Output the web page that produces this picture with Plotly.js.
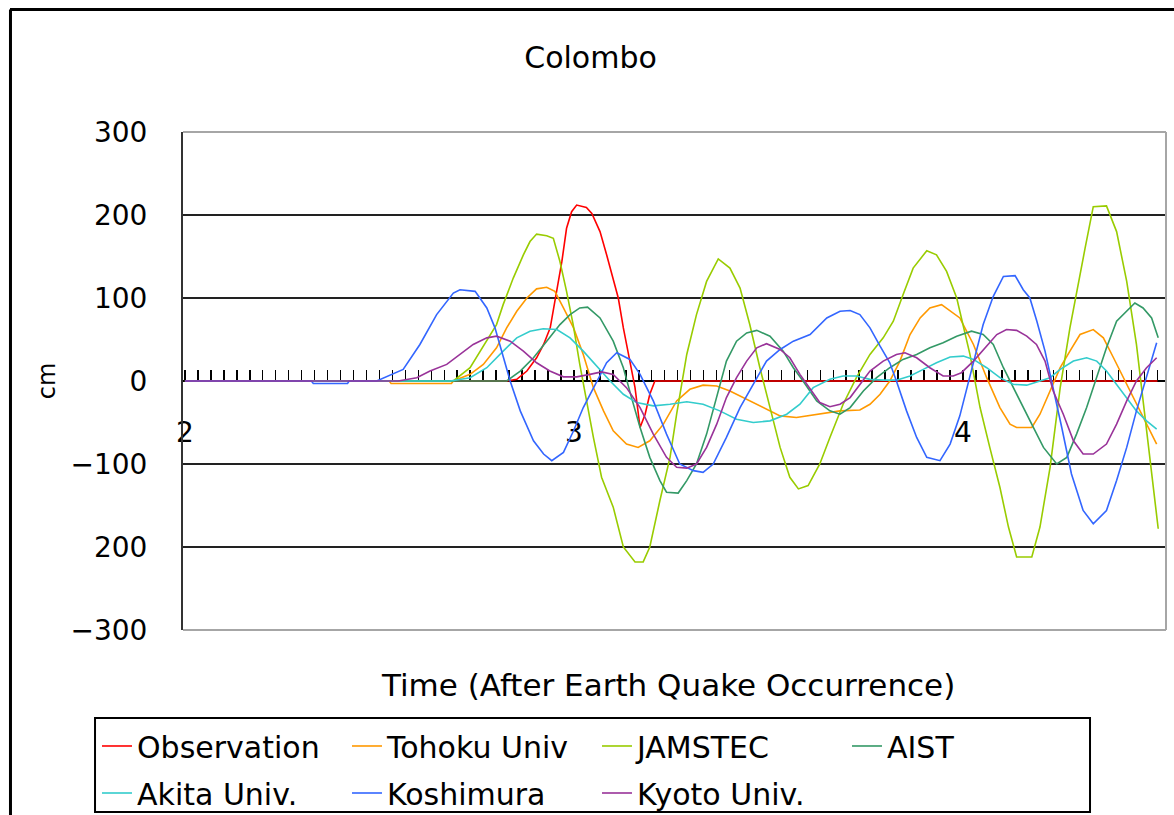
<!DOCTYPE html>
<html>
<head>
<meta charset="utf-8">
<script src="https://cdn.plot.ly/plotly-3.0.1.min.js"></script>
<style>html,body{margin:0;padding:0;background:#fff;}#chart{width:1174px;height:815px;}</style>
</head>
<body>
<div id="chart"></div>
<script>
// ---- data (time in hours after the earthquake, value in cm) ----
var seriesNames = ["Observation", "Tohoku Univ", "JAMSTEC", "AIST", "Akita Univ.", "Koshimura", "Kyoto Univ."];

var obsT = [2.0, 2.827, 2.853, 2.879, 2.904, 2.922, 2.939, 2.956, 2.969, 2.981, 2.994, 3.007, 3.032, 3.046, 3.067, 3.084, 3.101, 3.114, 3.127, 3.144, 3.157, 3.170, 3.183, 3.195, 3.208, 4.5];
var obsV = [0, 0, 2, 12, 28, 44, 64, 108, 144, 184, 204, 212, 209, 202, 180, 152, 124, 100, 64, 24, -8, -56, -40, -16, 0, 0];

var tohT = [2.0, 2.525, 2.53, 2.685, 2.690, 2.733, 2.767, 2.801, 2.827, 2.853, 2.879, 2.904, 2.930, 2.951, 2.973, 2.999, 3.024, 3.050, 3.076, 3.101, 3.135, 3.165, 3.195, 3.230, 3.264, 3.298, 3.332, 3.367, 3.401, 3.444, 3.487, 3.530, 3.572, 3.632, 3.684, 3.735, 3.761, 3.787, 3.812, 3.838, 3.864, 3.890, 3.915, 3.945, 3.975, 3.992, 4.027, 4.061, 4.095, 4.121, 4.138, 4.177, 4.198, 4.224, 4.250, 4.275, 4.301, 4.335, 4.361, 4.387, 4.421, 4.455, 4.481, 4.498];
var tohV = [0, 0, -3, -3, 0, 8, 20, 40, 64, 84, 100, 111, 113, 108, 88, 64, 32, -8, -36, -60, -76, -80, -72, -52, -24, -10, -5, -6, -12, -22, -32, -42, -44, -40, -36, -35, -28, -16, 0, 24, 56, 76, 88, 92, 82, 76, 44, 4, -32, -52, -56, -56, -40, -12, 16, 36, 56, 62, 52, 28, -4, -36, -60, -76];

var jamT = [2.0, 2.690, 2.733, 2.776, 2.801, 2.818, 2.844, 2.870, 2.887, 2.904, 2.930, 2.947, 2.964, 2.981, 2.998, 3.015, 3.032, 3.050, 3.071, 3.101, 3.127, 3.157, 3.178, 3.195, 3.221, 3.247, 3.264, 3.290, 3.315, 3.341, 3.371, 3.401, 3.427, 3.452, 3.478, 3.504, 3.530, 3.555, 3.577, 3.602, 3.632, 3.658, 3.692, 3.726, 3.761, 3.795, 3.821, 3.846, 3.872, 3.907, 3.932, 3.958, 3.984, 4.018, 4.044, 4.069, 4.095, 4.117, 4.138, 4.177, 4.198, 4.224, 4.250, 4.275, 4.292, 4.314, 4.335, 4.369, 4.395, 4.421, 4.446, 4.472, 4.502];
var jamV = [0, 0, 16, 48, 68, 92, 124, 152, 168, 177, 175, 172, 144, 108, 68, 20, -24, -68, -116, -152, -200, -218, -218, -200, -144, -92, -40, 32, 80, 120, 147, 136, 112, 68, 16, -32, -80, -116, -130, -126, -100, -68, -28, 4, 32, 52, 72, 104, 136, 157, 152, 132, 100, 32, -32, -80, -128, -176, -212, -212, -176, -104, -8, 64, 104, 160, 210, 211, 180, 120, 44, -56, -178];

var aistT = [2.0, 2.827, 2.862, 2.896, 2.930, 2.964, 2.990, 3.015, 3.035, 3.067, 3.101, 3.127, 3.148, 3.170, 3.195, 3.221, 3.238, 3.268, 3.290, 3.315, 3.341, 3.367, 3.392, 3.418, 3.444, 3.470, 3.504, 3.538, 3.564, 3.589, 3.624, 3.658, 3.684, 3.710, 3.744, 3.778, 3.812, 3.846, 3.881, 3.915, 3.949, 3.984, 4.022, 4.052, 4.078, 4.104, 4.129, 4.155, 4.181, 4.207, 4.241, 4.267, 4.292, 4.318, 4.344, 4.369, 4.395, 4.421, 4.442, 4.463, 4.485, 4.502];
var aistV = [0, 0, 12, 28, 48, 68, 80, 88, 89, 76, 48, 16, -20, -56, -92, -120, -134, -135, -120, -100, -64, -20, 24, 48, 58, 61, 54, 36, 16, 0, -24, -36, -40, -32, -12, 4, 16, 26, 32, 40, 46, 54, 60, 56, 44, 16, -8, -32, -56, -80, -100, -92, -64, -32, 4, 40, 72, 84, 94, 88, 76, 52];

var akiT = [2.0, 2.682, 2.733, 2.776, 2.818, 2.853, 2.887, 2.921, 2.956, 2.990, 3.024, 3.058, 3.093, 3.127, 3.161, 3.204, 3.247, 3.290, 3.332, 3.375, 3.418, 3.461, 3.504, 3.547, 3.581, 3.615, 3.632, 3.658, 3.692, 3.726, 3.761, 3.795, 3.829, 3.864, 3.898, 3.932, 3.967, 4.001, 4.027, 4.061, 4.095, 4.129, 4.164, 4.198, 4.224, 4.250, 4.284, 4.318, 4.344, 4.369, 4.395, 4.421, 4.446, 4.472, 4.498];
var akiV = [0, 0, 4, 16, 36, 52, 60, 63, 62, 52, 36, 18, 0, -16, -26, -30, -28, -25, -28, -36, -46, -50, -48, -40, -28, -8, -4, 2, 6, 6, 2, 1, 1, 6, 14, 22, 29, 30, 26, 16, 4, -4, -5, 0, 4, 14, 24, 28, 24, 12, -4, -20, -36, -48, -58];

var koshT = [2.0, 2.325, 2.33, 2.418, 2.422, 2.493, 2.561, 2.604, 2.647, 2.690, 2.707, 2.746, 2.776, 2.797, 2.819, 2.836, 2.862, 2.896, 2.922, 2.943, 2.973, 2.999, 3.024, 3.059, 3.084, 3.110, 3.144, 3.170, 3.204, 3.238, 3.272, 3.307, 3.332, 3.358, 3.392, 3.427, 3.461, 3.495, 3.530, 3.564, 3.607, 3.650, 3.684, 3.710, 3.735, 3.761, 3.787, 3.812, 3.829, 3.855, 3.881, 3.907, 3.941, 3.967, 3.992, 4.027, 4.052, 4.078, 4.104, 4.134, 4.155, 4.172, 4.190, 4.211, 4.232, 4.254, 4.279, 4.309, 4.335, 4.369, 4.395, 4.421, 4.446, 4.472, 4.498];
var koshV = [0, 0, -3, -3, 0, 0, 14, 44, 80, 106, 110, 108, 88, 64, 28, 0, -36, -72, -88, -96, -86, -60, -32, 0, 22, 34, 26, 8, -24, -64, -100, -108, -110, -100, -68, -32, -4, 24, 38, 48, 56, 76, 84, 85, 80, 64, 42, 22, 0, -36, -68, -92, -96, -76, -42, 24, 68, 102, 126, 127, 110, 100, 72, 36, -8, -56, -112, -156, -172, -156, -120, -80, -36, 4, 46];

var kyoT = [2.0, 2.548, 2.596, 2.630, 2.673, 2.707, 2.741, 2.776, 2.801, 2.836, 2.870, 2.904, 2.938, 2.973, 3.007, 3.041, 3.071, 3.101, 3.135, 3.170, 3.204, 3.238, 3.264, 3.290, 3.315, 3.341, 3.367, 3.392, 3.418, 3.444, 3.470, 3.495, 3.530, 3.555, 3.581, 3.611, 3.632, 3.658, 3.684, 3.710, 3.735, 3.761, 3.795, 3.829, 3.851, 3.881, 3.915, 3.949, 3.975, 3.996, 4.027, 4.061, 4.087, 4.112, 4.138, 4.164, 4.189, 4.211, 4.232, 4.258, 4.284, 4.309, 4.335, 4.369, 4.395, 4.421, 4.446, 4.472, 4.498];
var kyoV = [0, 0, 4, 12, 20, 32, 44, 52, 54, 48, 36, 22, 12, 5, 5, 8, 11, 8, -8, -32, -64, -92, -104, -105, -100, -80, -52, -20, 4, 24, 40, 45, 38, 28, 8, -12, -26, -31, -28, -20, -4, 12, 24, 32, 34, 28, 16, 6, 6, 10, 24, 42, 56, 62, 61, 54, 44, 24, -12, -40, -72, -88, -88, -76, -52, -24, 0, 16, 28];

var yTickVals = [-300, -200, -100, 0, 100, 200, 300];
var yTickText = ["\u2212300", "200", "\u2212100", "0", "100", "200", "300"];
var titleText = "Colombo";
var xTitleText = "Time (After Earth Quake Occurrence)";
var yTitleText = "cm";

// ---- styling ----
var colors = ["#FF0000", "#FF9900", "#99CC00", "#339966", "#33CCCC", "#3366FF", "#993399"];
var legendRow = ["legend", "legend", "legend", "legend", "legend2", "legend2", "legend2"];
var xs = [obsT, tohT, jamT, aistT, akiT, koshT, kyoT];
var ys = [obsV, tohV, jamV, aistV, akiV, koshV, kyoV];
var FONT = "DejaVu Sans";

var traces = seriesNames.map(function (n, i) {
  return {
    type: "scatter", mode: "lines", name: n,
    x: xs[i], y: ys[i],
    line: { color: colors[i], width: 1.6 },
    legend: legendRow[i],
    hoverinfo: "skip"
  };
});

var xRange = [1.995, 4.522];

function legendAt(yTop) {
  return {
    orientation: "h", xref: "paper", yref: "paper",
    x: -0.0875, xanchor: "left", y: yTop, yanchor: "top",
    borderwidth: 0, bgcolor: "rgba(0,0,0,0)",
    font: { family: FONT, size: 30, color: "#000" },
    entrywidth: 205, entrywidthmode: "pixels", traceorder: "normal"
  };
}

var layout = {
  width: 1174, height: 815,
  paper_bgcolor: "#fff", plot_bgcolor: "#fff",
  margin: { l: 183, r: 8, t: 132, b: 185, autoexpand: false },
  font: { family: FONT, color: "#000" },
  showlegend: true,
  title: {
    text: titleText, font: { family: FONT, size: 30, color: "#000" },
    xref: "container", x: 0.503, xanchor: "center",
    yref: "container", y: 0.930, yanchor: "middle"
  },
  xaxis: {
    range: xRange, anchor: "free", position: 0.5,
    tickmode: "linear", tick0: 2, dtick: 1,
    ticks: "inside", ticklen: 10, tickwidth: 1.5, tickcolor: "#000",
    minor: { tick0: 2, dtick: 1 / 30, ticks: "inside", ticklen: 10, tickwidth: 1.5, tickcolor: "#000", showgrid: false },
    showline: true, linecolor: "#000", linewidth: 2,
    showgrid: false, zeroline: false, layer: "below traces",
    tickfont: { family: FONT, size: 28, color: "#000" },
    ticklabelstandoff: 26
  },
  yaxis: {
    range: [-300, 300], tickmode: "array", tickvals: yTickVals, ticktext: yTickText,
    showgrid: true, gridcolor: "#222", gridwidth: 1.5,
    zeroline: false, showline: true, linecolor: "#333", linewidth: 2,
    ticks: "", ticklabelstandoff: 28,
    tickfont: { family: FONT, size: 28, color: "#000" },
    title: { text: yTitleText, font: { family: FONT, size: 24, color: "#000" }, standoff: 8 }
  },
  annotations: [
    { text: xTitleText, xref: "paper", yref: "paper", x: 0.4934, y: -0.1104,
      xanchor: "center", yanchor: "middle", showarrow: false,
      font: { family: FONT, size: 31, color: "#000" } }
  ],
  legend: legendAt(-0.1807),
  legend2: legendAt(-0.2751),
  shapes: [
    { type: "line", xref: "paper", yref: "paper", x0: 0, x1: 1, y0: 1, y1: 1, line: { color: "#a6a6a6", width: 2 } },
    { type: "line", xref: "paper", yref: "paper", x0: 1, x1: 1, y0: 0, y1: 1, line: { color: "#a6a6a6", width: 2 } },
    { type: "line", xref: "paper", yref: "paper", x0: 0, x1: 1, y0: 0, y1: 0, line: { color: "#a6a6a6", width: 2 } },
    { type: "rect", xref: "paper", yref: "paper", x0: -0.0895, x1: 0.9227, y0: -0.3655, y1: -0.1767, line: { color: "#000", width: 2 }, fillcolor: "rgba(0,0,0,0)" },
    { type: "line", xref: "paper", yref: "paper", x0: -0.176, x1: 1.02, y0: 1.246, y1: 1.246, line: { color: "#000", width: 3 } },
    { type: "line", xref: "paper", yref: "paper", x0: -0.1755, x1: -0.1755, y0: -0.38, y1: 1.246, line: { color: "#000", width: 3 } }
  ]
};

Plotly.newPlot("chart", traces, layout, { displayModeBar: false, staticPlot: true });
</script>
</body>
</html>
